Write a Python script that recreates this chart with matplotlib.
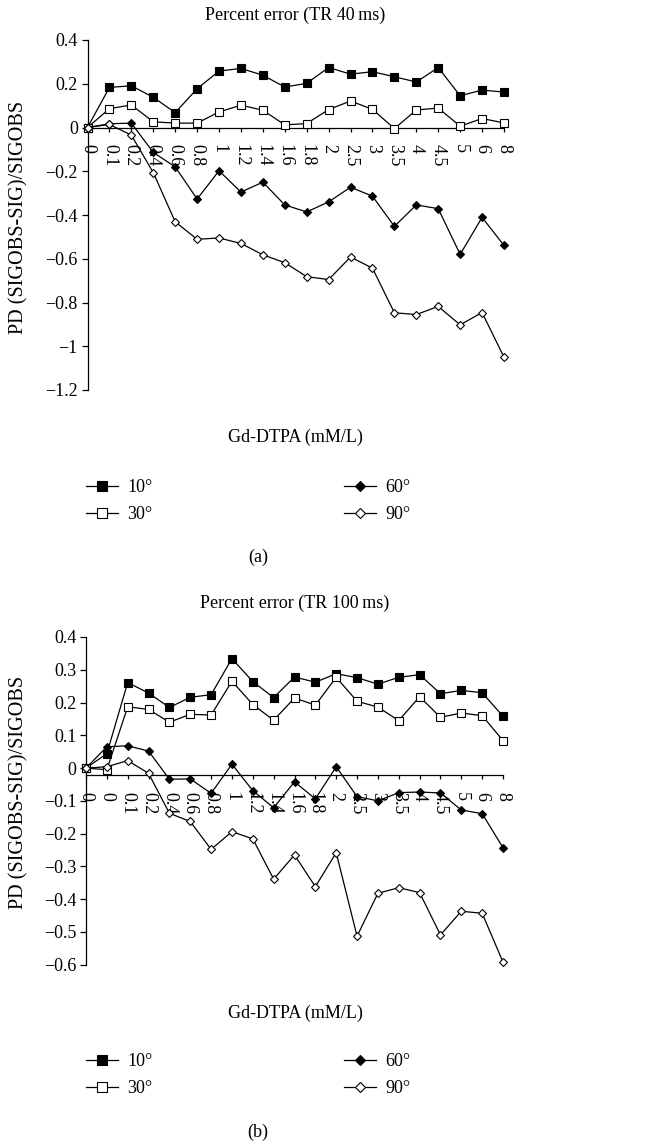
import matplotlib
matplotlib.use("Agg")
import matplotlib.pyplot as plt
from matplotlib.ticker import FuncFormatter

plt.rcParams['font.family'] = ['Liberation Serif', 'DejaVu Serif']

# ---------------- data: TR 40 ms ----------------
cats_a = ["0", "0.1", "0.2", "0.4", "0.6", "0.8", "1", "1.2", "1.4", "1.6", "1.8",
          "2", "2.5", "3", "3.5", "4", "4.5", "5", "6", "8"]
a_10 = [0.0, 0.183, 0.191, 0.138, 0.068, 0.177, 0.258, 0.270, 0.239, 0.185, 0.202,
        0.274, 0.244, 0.255, 0.232, 0.208, 0.274, 0.145, 0.171, 0.162]
a_30 = [0.0, 0.086, 0.103, 0.026, 0.020, 0.020, 0.071, 0.102, 0.079, 0.012, 0.018,
        0.082, 0.121, 0.083, -0.005, 0.080, 0.089, 0.006, 0.041, 0.021]
a_60 = [0.0, 0.017, 0.020, -0.114, -0.180, -0.327, -0.198, -0.295, -0.250, -0.354, -0.386,
        -0.340, -0.273, -0.314, -0.452, -0.354, -0.371, -0.580, -0.411, -0.539]
a_90 = [0.0, 0.014, -0.035, -0.206, -0.431, -0.511, -0.505, -0.530, -0.582, -0.618, -0.682,
        -0.695, -0.592, -0.643, -0.847, -0.855, -0.818, -0.902, -0.846, -1.050]

# ---------------- data: TR 100 ms ----------------
cats_b = ["0", "0", "0.1", "0.2", "0.4", "0.6", "0.8", "1", "1.2", "1.4", "1.6", "1.8",
          "2", "2.5", "3", "3.5", "4", "4.5", "5", "6", "8"]
b_10 = [0.0, 0.044, 0.261, 0.229, 0.185, 0.216, 0.224, 0.334, 0.264, 0.215, 0.278, 0.262,
        0.288, 0.276, 0.256, 0.277, 0.285, 0.227, 0.237, 0.230, 0.158]
b_30 = [0.0, -0.005, 0.187, 0.179, 0.140, 0.164, 0.162, 0.265, 0.194, 0.146, 0.214, 0.192,
        0.277, 0.204, 0.186, 0.145, 0.218, 0.155, 0.168, 0.160, 0.084]
b_60 = [0.0, 0.065, 0.068, 0.052, -0.034, -0.033, -0.077, 0.012, -0.069, -0.121, -0.042, -0.094,
        0.004, -0.087, -0.100, -0.075, -0.073, -0.076, -0.128, -0.139, -0.243]
b_90 = [0.0, 0.004, 0.023, -0.016, -0.138, -0.163, -0.248, -0.194, -0.216, -0.339, -0.265, -0.362,
        -0.258, -0.513, -0.382, -0.365, -0.380, -0.509, -0.437, -0.443, -0.592]

labels = ["10°", "30°", "60°", "90°"]
yticks_a = [0.4, 0.2, 0, -0.2, -0.4, -0.6, -0.8, -1, -1.2]
yticks_b = [0.4, 0.3, 0.2, 0.1, 0, -0.1, -0.2, -0.3, -0.4, -0.5, -0.6]

W, H = 651, 1143
fig = plt.figure(figsize=(W / 100, H / 100), dpi=100)

styles = [
    dict(marker='s', ms=5.2, mfc='black', mec='black'),
    dict(marker='s', ms=5.2, mfc='white', mec='black'),
    dict(marker='D', ms=3.6, mfc='black', mec='black'),
    dict(marker='D', ms=3.6, mfc='white', mec='black'),
]

fmt = FuncFormatter(lambda v, p: ("%g" % round(v, 2)).replace("-", "\u2212"))
FS = 13


def make_panel(box, cats, series, yticks, ylim, spine_y, title, title_y, xlab_y,
               leg_y, tag, tag_y, ylab_y):
    l, t, r, b = box
    ax = fig.add_axes([l / W, 1 - b / H, (r - l) / W, (b - t) / H])
    x = list(range(len(cats)))
    handles = []
    for s, st, lab in zip(series, styles, labels):
        h, = ax.plot(x, s, color='black', lw=0.9, mew=0.8, label=lab, clip_on=False,
                     zorder=3, **st)
        handles.append(h)
    ax.set_xlim(0, len(cats) - 1)
    ax.set_ylim(*ylim)
    ax.spines['top'].set_visible(False)
    ax.spines['right'].set_visible(False)
    ax.spines['left'].set_linewidth(0.9)
    ax.spines['bottom'].set_linewidth(0.9)
    ax.spines['bottom'].set_position(('data', spine_y))
    ax.set_yticks(yticks)
    ax.yaxis.set_major_formatter(fmt)
    ax.set_xticks(x)
    ax.set_xticklabels(cats, rotation=270, ha='center', va='top')
    ax.tick_params(axis='y', direction='out', length=4, width=0.9, labelsize=FS, pad=3)
    ax.tick_params(axis='x', direction='out', length=3, width=0.9, labelsize=FS, pad=9)
    fig.text(295 / W, 1 - title_y / H, title, ha='center', va='center', fontsize=FS)
    fig.text(295 / W, 1 - xlab_y / H, "Gd-DTPA (mM/L)", ha='center', va='center', fontsize=FS)
    fig.text(258 / W, 1 - tag_y / H, tag, ha='center', va='center', fontsize=FS)
    fig.text(19 / W, 1 - ylab_y / H, "PD (SIGOBS-SIG)/SIGOBS", ha='center', va='center',
             rotation=90, fontsize=14.6)
    fig.legend(handles=handles, labels=labels, ncol=2, loc='upper left',
               bbox_to_anchor=(86 / W, 1 - leg_y / H), frameon=False, fontsize=FS,
               handlelength=1.75, handletextpad=0.55, columnspacing=10.6,
               labelspacing=0.55, borderpad=0, borderaxespad=0, markerscale=1.35)
    return ax


make_panel((87.5, 40, 504, 390), cats_a, [a_10, a_30, a_60, a_90], yticks_a, (-1.2, 0.4), 0,
           "Percent error (TR 40\u2009ms)", 15, 437, 479, "(a)", 557, 217)
make_panel((86, 637, 503, 964.7), cats_b, [b_10, b_30, b_60, b_90], yticks_b, (-0.6, 0.4), -0.021,
           "Percent error (TR 100\u2009ms)", 603, 1013, 1053, "(b)", 1132, 792)

fig.savefig("out.png", dpi=100, facecolor='white')
